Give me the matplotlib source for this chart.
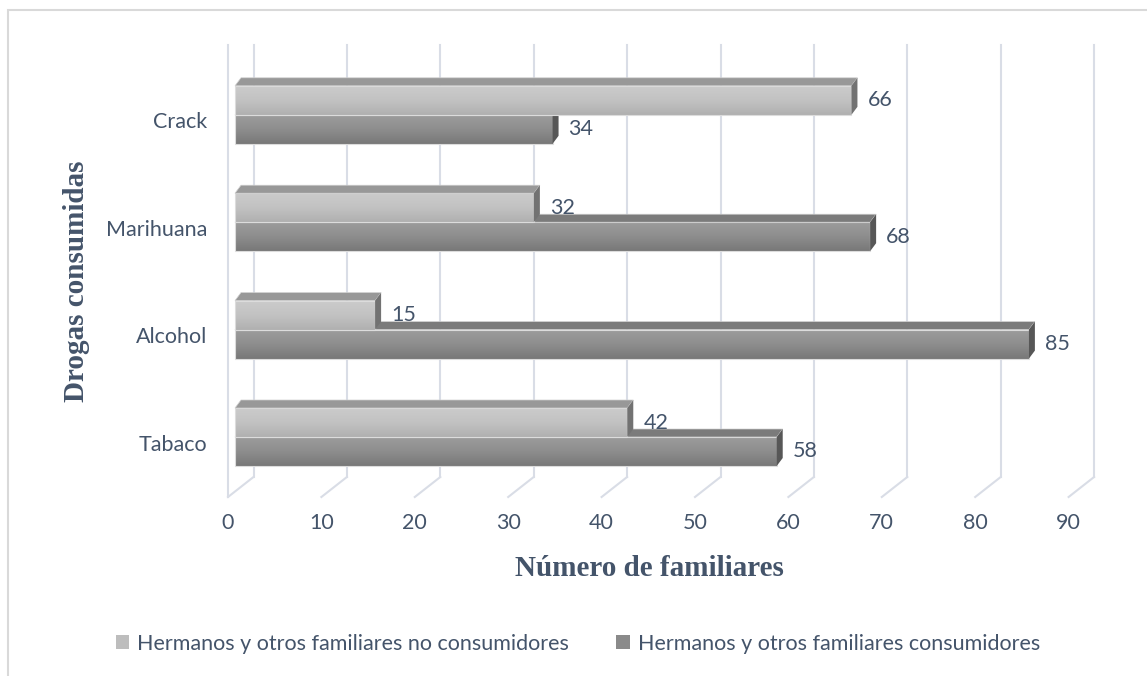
import matplotlib
matplotlib.use("Agg")
import matplotlib.pyplot as plt
import numpy as np
from matplotlib.patches import Polygon, Rectangle, Patch
from matplotlib.colors import LinearSegmentedColormap

# data (bottom to top)
categories = ["Tabaco", "Alcohol", "Marihuana", "Crack"]
no_consumidores = [42, 15, 32, 66]
consumidores = [58, 85, 68, 34]
x_ticks = [0, 10, 20, 30, 40, 50, 60, 70, 80, 90]
series_names = ["Hermanos y otros familiares no consumidores",
                "Hermanos y otros familiares consumidores"]

TXT = "#44546a"
GRID = "#d9dde6"
BODY = "Lato"
TITLE = "Liberation Serif"
FS = 15.5

W, H = 1147, 676
fig = plt.figure(figsize=(W / 100, H / 100), dpi=100)

# axes laid out in pixels: x=0 at 235 px, 9.34 px per unit; categories 107.4 px apart
px_unit = 9.34
py_unit = 107.4
ax_l, ax_r, ax_t, ax_b = 200, 1130, 30, 560
ax = fig.add_axes([ax_l / W, 1 - ax_b / H, (ax_r - ax_l) / W, (ax_b - ax_t) / H])
ax.axis("off")

# 3d depth offsets in data units
dx, dy = 6 / px_unit, 8 / py_unit
back_dx = 18.5 / px_unit
front_dx = -7 / px_unit
wall_top = (437 - 45) / py_unit
floor_back = (437 - 477) / py_unit
floor_front = (437 - 497) / py_unit

# back wall gridlines and floor diagonals
for t in x_ticks:
    ax.plot([t + back_dx, t + back_dx], [floor_back, wall_top], color=GRID, lw=1.5, zorder=1)
    ax.plot([t + back_dx, t + front_dx], [floor_back, floor_front], color=GRID, lw=1.5, zorder=1)
    ax.text(t + front_dx, floor_front - 0.24, str(t), ha="center", va="center",
            fontsize=FS, color=TXT, family=BODY)
# left wall edge
ax.plot([front_dx, front_dx], [floor_front, wall_top], color=GRID, lw=1.5, zorder=1)

light_cmap = LinearSegmentedColormap.from_list("l", ["#b0b0b0", "#c2c2c2", "#cbcbcb"])
dark_cmap = LinearSegmentedColormap.from_list("d", ["#787878", "#8d8d8d", "#9c9c9c"])
grad = np.linspace(0, 1, 64).reshape(-1, 1)

h = 0.27


def bar3d(v, y0, cmap, top_c, side_c, z):
    # front face with vertical gradient
    ax.imshow(grad, cmap=cmap, extent=(0, v, y0, y0 + h), origin="lower",
              aspect="auto", zorder=z, interpolation="bilinear")
    ax.add_patch(Rectangle((0, y0), v, h, fill=False, ec="#dcdcdc", lw=0.8, zorder=z + 0.1))
    top = [(0, y0 + h), (v, y0 + h), (v + dx, y0 + h + dy), (dx, y0 + h + dy)]
    ax.add_patch(Polygon(top, closed=True, fc=top_c, ec="#d0d0d0", lw=0.5, zorder=z + 0.2))
    side = [(v, y0), (v, y0 + h), (v + dx, y0 + h + dy), (v + dx, y0 + dy)]
    ax.add_patch(Polygon(side, closed=True, fc=side_c, ec="none", zorder=z + 0.2))


for i, cat in enumerate(categories):
    vl, vd = no_consumidores[i], consumidores[i]
    bar3d(vd, i - h, dark_cmap, "#7b7b7b", "#575757", 3)
    bar3d(vl, i, light_cmap, "#989898", "#727272", 4)
    ax.annotate(str(vl), (vl, i + h / 2), xytext=(11.5, 0), textcoords="offset points",
                ha="left", va="center", fontsize=FS, color=TXT, family=BODY, zorder=6)
    ax.annotate(str(vd), (vd, i - h / 2), xytext=(11.5, 0), textcoords="offset points",
                ha="left", va="center", fontsize=FS, color=TXT, family=BODY, zorder=6)
    ax.text(front_dx - 2.2, i - 0.07, cat, ha="right", va="center",
            fontsize=FS, color=TXT, family=BODY)

ax.set_xlim((ax_l - 235) / px_unit, (ax_r - 235) / px_unit)
ax.set_ylim((437 - ax_b) / py_unit, (437 - ax_t) / py_unit)

# axis titles
fig.text(649 / W, 1 - 569 / H, "Número de familiares", ha="center", va="center",
         fontsize=21, fontweight="bold", color=TXT, family=TITLE)
fig.text(76 / W, 1 - 281 / H, "Drogas consumidas", ha="center", va="center", rotation=90,
         fontsize=21, fontweight="bold", color=TXT, family=TITLE)

# legend
handles = [Patch(fc="#bdbdbd", ec="none"), Patch(fc="#8a8a8a", ec="none")]
fig.legend(handles, series_names, loc="center", bbox_to_anchor=(578 / W, 1 - 644 / H),
           ncol=2, frameon=False, prop={"family": BODY, "size": FS},
           labelcolor=TXT, handlelength=0.62, handleheight=0.62, handletextpad=0.37,
           columnspacing=2.2)

# outer chart border
fig.patches.append(Rectangle((8 / W, -0.05), 1.1, 1 - 10 / H + 0.05, transform=fig.transFigure,
                             fill=False, ec="#d9d9d9", lw=1.5))

fig.savefig("out.png", dpi=100)
